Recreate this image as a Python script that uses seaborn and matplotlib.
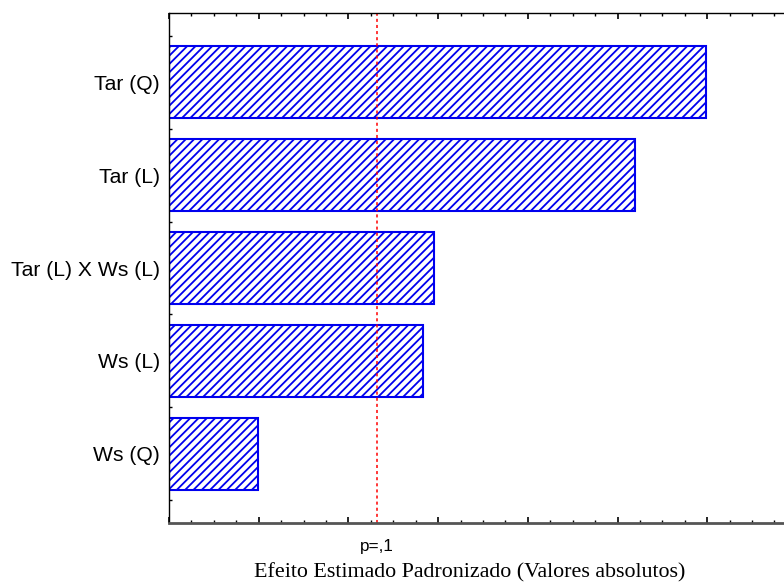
import matplotlib
matplotlib.use("Agg")
import matplotlib.pyplot as plt
import matplotlib.transforms as mtransforms
from matplotlib.ticker import MultipleLocator
import seaborn as sns
import pandas as pd

# Standardized effects (absolute values) for the Pareto chart
effects = ["Tar (Q)", "Tar (L)", "Tar (L) X Ws (L)", "Ws (L)", "Ws (Q)"]
std_effect = [5.99, 5.19, 2.95, 2.83, 0.99]
p_crit = 2.315
p_label = "p=,1"
x_label = "Efeito Estimado Padronizado (Valores absolutos)"

sns.set_theme(style="white")
plt.rcParams["font.family"] = ["Liberation Sans", "DejaVu Sans"]
plt.rcParams["hatch.linewidth"] = 1.3
plt.rcParams["hatch.color"] = "#0000ee"

df = pd.DataFrame({"Efeito": effects, "Valor": std_effect})

fig = plt.figure(figsize=(7.84, 5.83), dpi=100)
W, H = 784, 583
left, right_px, top, bottom = 169, 169 + 7 * 89.7, 13, 523
ax = fig.add_axes([left / W, 1 - bottom / H, (right_px - left) / W, (bottom - top) / H])

sns.barplot(data=df, x="Valor", y="Efeito", orient="h", ax=ax,
            color="white", saturation=1, edgecolor="#0000ee", linewidth=1.5,
            hatch="////", width=0.774)

ax.set_xlim(0, 7)
ax.set_ylim(4.742, -0.742)

# Critical value line
ax.axvline(p_crit, color="red", linestyle=(0, (2, 2)), linewidth=1.1)
trans = mtransforms.blended_transform_factory(ax.transData, ax.transAxes)
ax.text(p_crit, 1 - (546 - 13) / (bottom - top), p_label, transform=trans,
        ha="center", va="center", fontsize=12.3, color="black")

fig.text(470 / W, 1 - 573 / H, x_label, ha="center", va="center",
         fontsize=15.8, family=["Liberation Serif", "DejaVu Serif"], color="black")

ax.set_xlabel("")
ax.set_ylabel("")
ax.xaxis.set_major_locator(MultipleLocator(1))
ax.xaxis.set_minor_locator(MultipleLocator(0.25))
ax.set_xticklabels([])
ax.yaxis.set_minor_locator(MultipleLocator(0.25))
ax.tick_params(axis="x", which="both", direction="in", top=True, bottom=True,
               labelbottom=False, color="black")
ax.tick_params(axis="x", which="major", length=4, width=1.2)
ax.tick_params(axis="x", which="minor", length=2.5, width=1)
ax.tick_params(axis="y", which="both", direction="in", left=True, length=2.5,
               width=1, color="black")
ax.tick_params(axis="y", which="major", labelsize=15.2, pad=6.5, labelcolor="black")

for side in ["left", "top", "right"]:
    ax.spines[side].set_color("black")
    ax.spines[side].set_linewidth(1)
ax.spines["bottom"].set_color("#555555")
ax.spines["bottom"].set_linewidth(2)

fig.savefig("out.png", dpi=100)
